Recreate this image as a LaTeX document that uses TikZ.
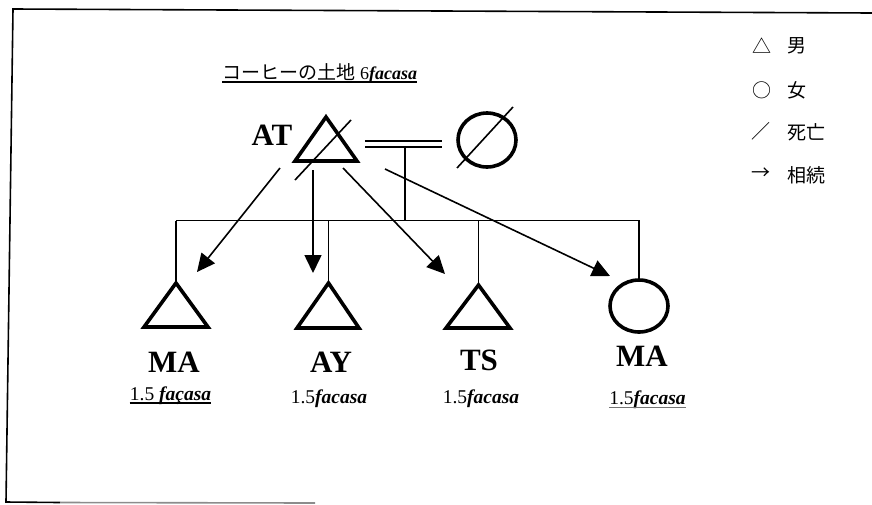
\documentclass[tikz,border=0pt]{standalone}
\usepackage{fontspec}
\setmainfont{Liberation Serif}
\newfontfamily\jp{Noto Sans CJK JP}
\usetikzlibrary{arrows.meta}

\tikzset{
  thinline/.style={line width=1.5pt},
  frameline/.style={line width=1.6pt},
  symline/.style={line width=3.6pt, line join=miter},
  slashline/.style={line width=1.6pt},
  heir/.style={line width=1.6pt, -{Triangle[length=18pt,width=17pt]}},
  kinname/.style={font=\fontsize{31}{31}\selectfont\bfseries, inner sep=0, anchor=base},
  share/.style={font=\fontsize{19.5}{19.5}\selectfont, inner sep=0, anchor=base},
  legendsym/.style={font=\jp\fontsize{19}{19}\selectfont, inner sep=0},
  legendtext/.style={font=\jp\fontsize{19}{19}\selectfont, inner sep=0, anchor=west},
}

\begin{document}
\begin{tikzpicture}[x=1pt,y=-1pt]
\useasboundingbox (0,0) rectangle (872,504);

% page frame
\coordinate (ftr) at (872,13);
\coordinate (ftl) at (13,9);
\coordinate (fbl) at (6,502);
\coordinate (fbm) at (60,502.5);
\coordinate (fbr) at (315,503);
\draw[frameline] (ftr) -- (ftl) -- (fbl) -- (fbm);
\draw[frameline, black!45] (fbm) -- (fbr);

% title
\node[anchor=base west, inner sep=0, font=\fontsize{18}{18}\selectfont] (title) at (222,79)
  {{\jp\fontsize{19}{19}\selectfont コーヒーの土地}\hspace{5pt}6\textbf{\textit{facasa}}};
\draw[line width=1.2pt] ([yshift=-3pt]title.base west) -- ([yshift=-3pt]title.base east);

% father (deceased)
\coordinate (fa) at (326,117);
\coordinate (fl) at (295,161);
\coordinate (fr) at (357,161);
\draw[symline] (fa) -- (fl) -- (fr) -- cycle;
\coordinate (fs1) at (295,180);
\coordinate (fs2) at (351,120);
\draw[slashline] (fs1) -- (fs2);
\node[kinname] (at) at (272,145) {AT};

% mother (deceased)
\coordinate (mo) at (487,140);
\draw[symline] (mo) ellipse [x radius=29, y radius=27];
\coordinate (ms1) at (457,168);
\coordinate (ms2) at (513,107);
\draw[slashline] (ms1) -- (ms2);

% marriage double line and descent line
\coordinate (m1l) at (365,141);
\coordinate (m1r) at (442,141);
\coordinate (m2l) at (365,147);
\coordinate (m2r) at (442,147);
\draw[line width=1.8pt] (m1l) -- (m1r);
\draw[line width=1.8pt] (m2l) -- (m2r);
\coordinate (dtop) at (405,147);
\coordinate (dbot) at (405,220.5);
\draw[thinline] (dtop) -- (dbot);

% sibling line
\coordinate (sl) at (176,220.5);
\coordinate (sr) at (640,220.5);
\draw[thinline] (sl) -- (sr);

% child 1: son MA
\coordinate (c1top) at (176,220.5);
\coordinate (c1a) at (176,283);
\coordinate (c1l) at (144,327);
\coordinate (c1r) at (208,327);
\draw[thinline] (c1top) -- (c1a);
\draw[symline] (c1a) -- (c1l) -- (c1r) -- cycle;
\node[kinname] (n1) at (174,372) {MA};
\node[share] (s1) at (170.5,400) {1.5 \textbf{\textit{façasa}}};
\draw[line width=1.2pt] ([yshift=-3pt]s1.base west) -- ([yshift=-3pt]s1.base east);

% child 2: son AY
\coordinate (c2top) at (328.5,220.5);
\coordinate (c2a) at (328.5,283);
\coordinate (c2l) at (297,328);
\coordinate (c2r) at (359,328);
\draw[thinline] (c2top) -- (c2a);
\draw[symline] (c2a) -- (c2l) -- (c2r) -- cycle;
\node[kinname] (n2) at (331,372) {AY};
\node[share] (s2) at (329,403) {1.5\textbf{\textit{facasa}}};

% child 3: son TS
\coordinate (c3top) at (478.5,220.5);
\coordinate (c3a) at (478.5,285);
\coordinate (c3l) at (446,328);
\coordinate (c3r) at (510,328);
\draw[thinline] (c3top) -- (c3a);
\draw[symline] (c3a) -- (c3l) -- (c3r) -- cycle;
\node[kinname] (n3) at (479,370) {TS};
\node[share] (s3) at (481,403) {1.5\textbf{\textit{facasa}}};

% child 4: daughter MA
\coordinate (c4top) at (639,220.5);
\coordinate (c4c) at (639,306);
\coordinate (c4a) at (639,280);
\draw[thinline] (c4top) -- (c4a);
\draw[symline] (c4c) ellipse [x radius=29, y radius=26];
\node[kinname] (n4) at (642,366) {MA};
\node[share] (s4) at (647.5,404) {1.5\textbf{\textit{facasa}}};
\draw[line width=1.4pt, black!55] ([yshift=-3.5pt]s4.base west) -- ([yshift=-3.5pt]s4.base east);

% inheritance arrows
\coordinate (h1s) at (280,168);
\coordinate (h1e) at (197,272);
\coordinate (h2s) at (313,170);
\coordinate (h2e) at (313,273);
\coordinate (h3s) at (343,168);
\coordinate (h3e) at (445,274);
\coordinate (h4s) at (385,169);
\coordinate (h4e) at (610,276);
\draw[heir] (h1s) -- (h1e);
\draw[heir] (h2s) -- (h2e);
\draw[heir] (h3s) -- (h3e);
\draw[heir] (h4s) -- (h4e);

% legend
\node[legendsym] (l1s) at (762,46) {△};
\node[legendtext] (l1t) at (787,46) {男};
\node[legendsym] (l2s) at (762,90) {○};
\node[legendtext] (l2t) at (787,90) {女};
\node[legendsym] (l3s) at (761,131) {／};
\node[legendtext] (l3t) at (787,132) {死亡};
\node[legendsym] (l4s) at (761,174) {→};
\node[legendtext] (l4t) at (787,175) {相続};
\end{tikzpicture}
\end{document}
